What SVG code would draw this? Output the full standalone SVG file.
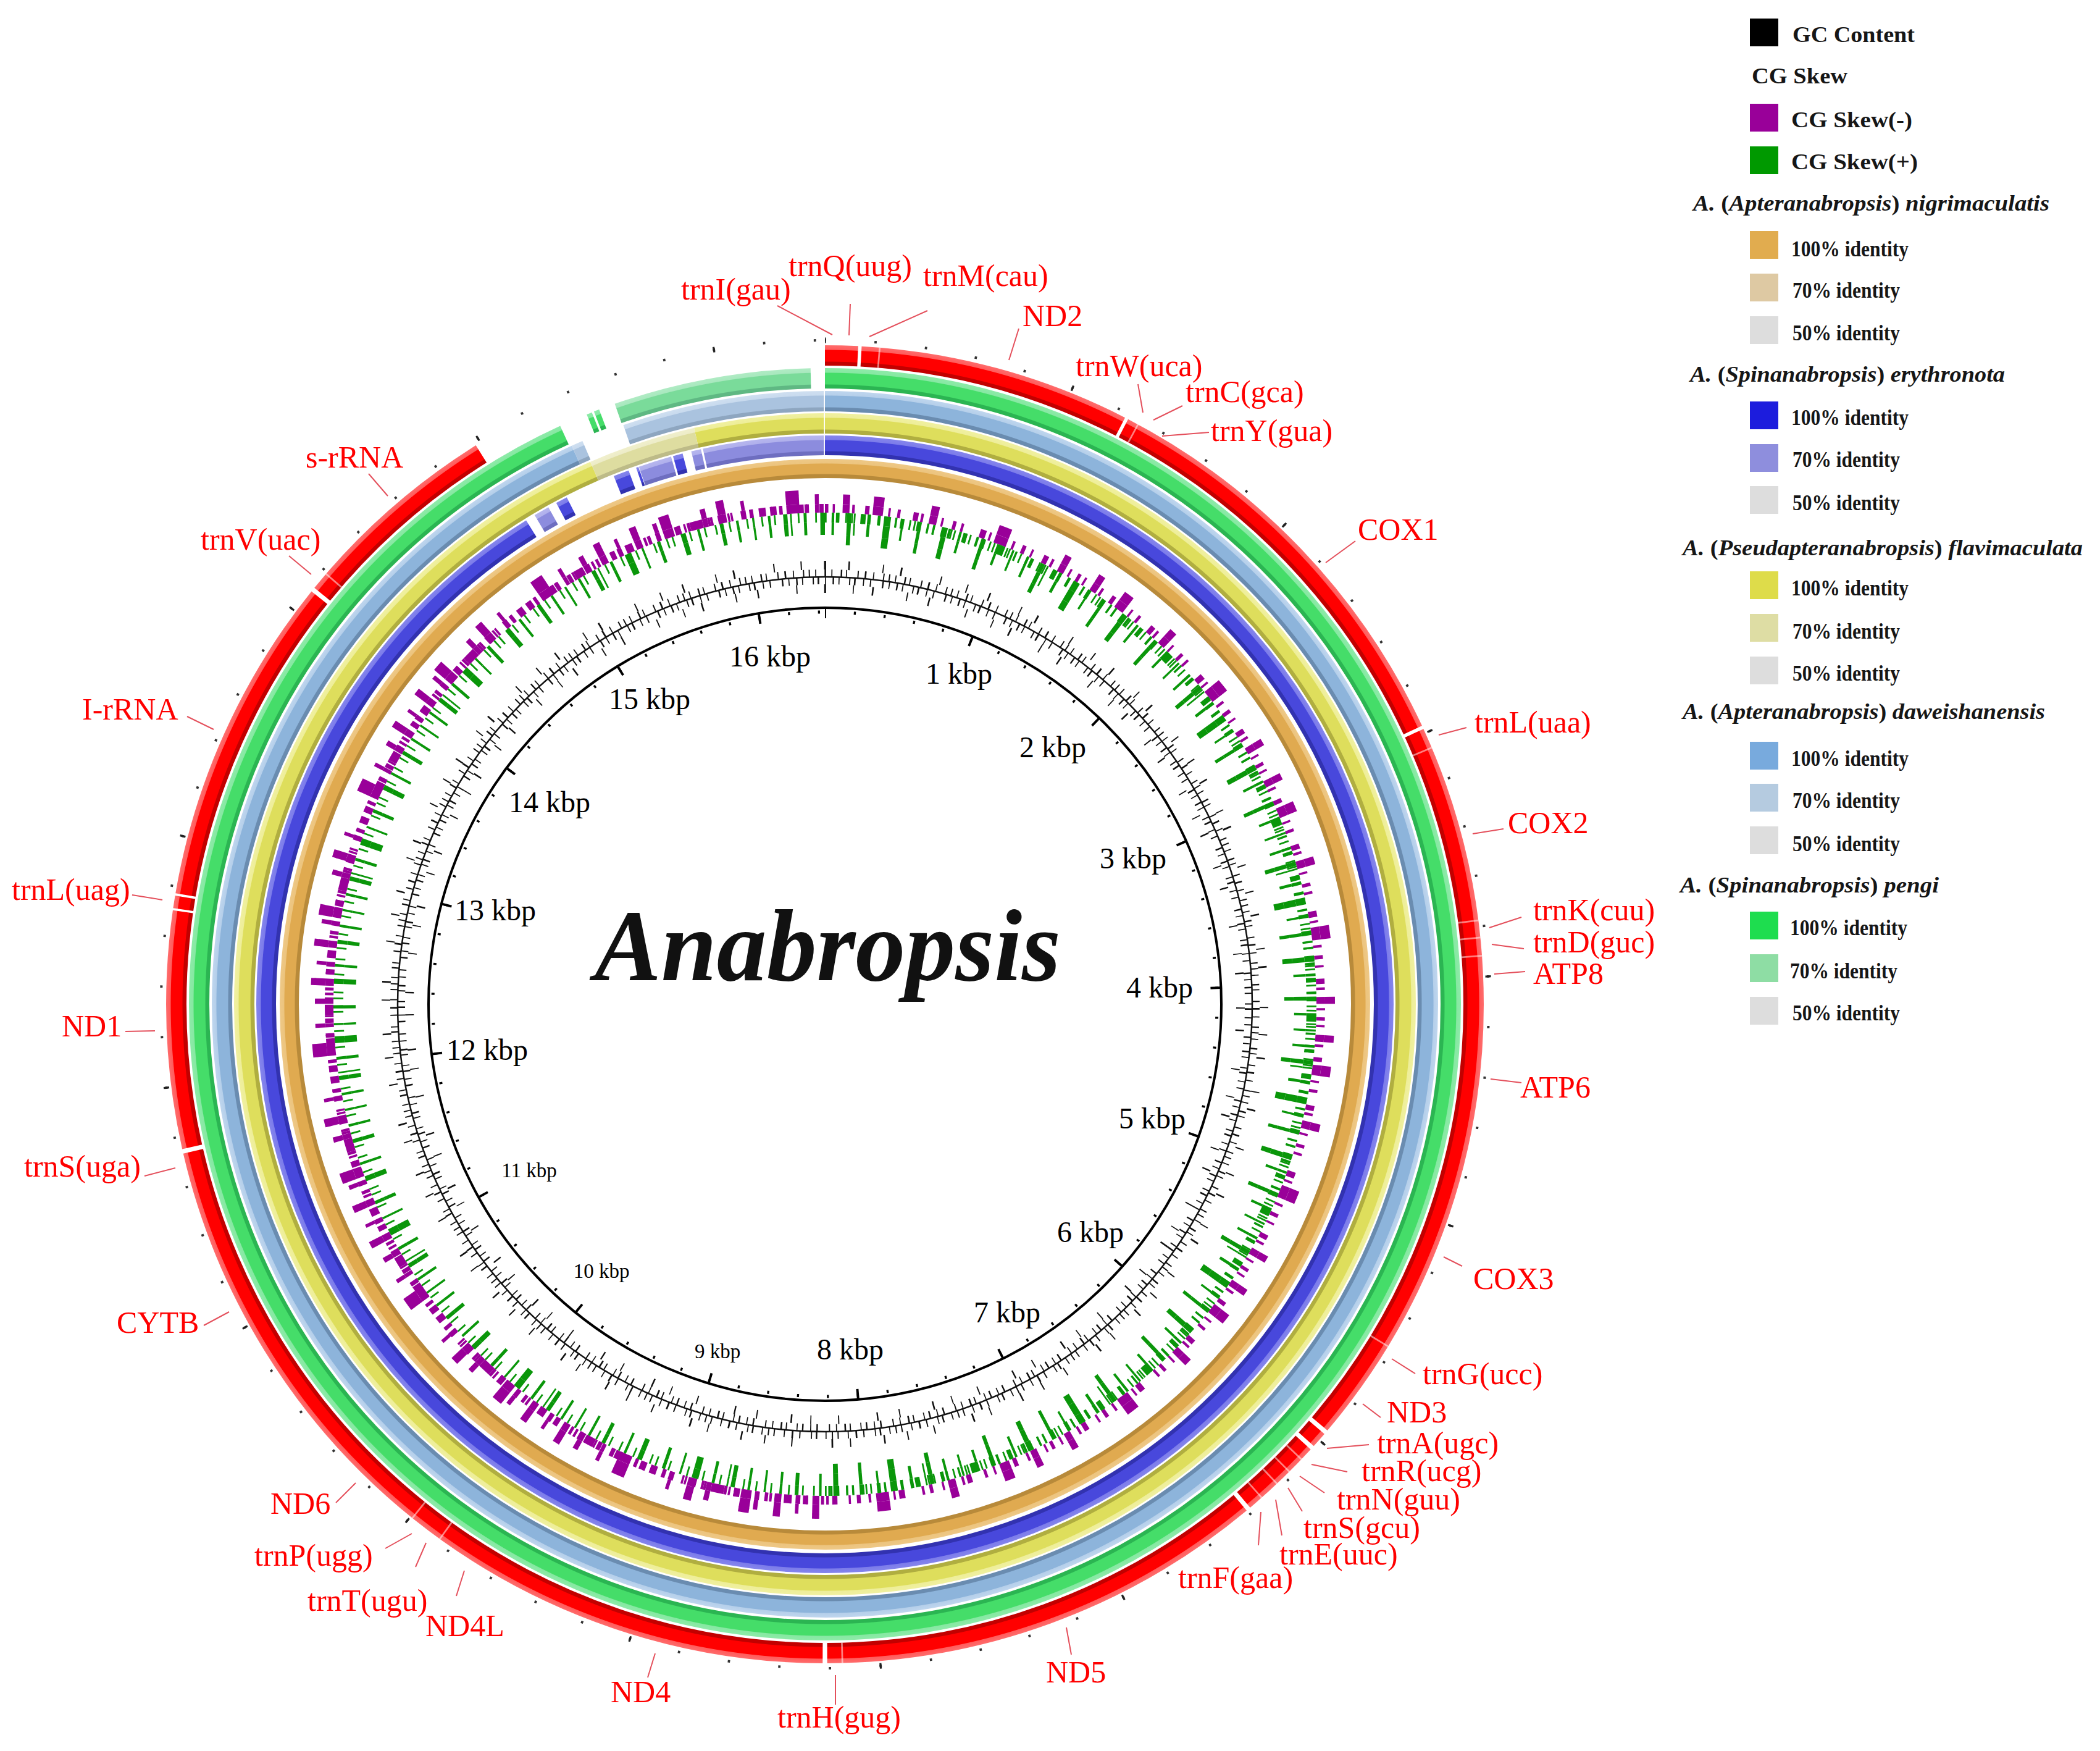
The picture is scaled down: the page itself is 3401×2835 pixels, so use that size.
<svg xmlns="http://www.w3.org/2000/svg" width="3401" height="2835" viewBox="0 0 3401 2835">
<defs>
<style>
.lbl{font-family:"Liberation Serif","Times New Roman",serif;font-size:50px;fill:#FF0000}
.ldr{stroke:#E4505C;stroke-width:2;fill:none}
.kbp{font-family:"Liberation Serif","Times New Roman",serif;font-size:48px;fill:#000;text-anchor:middle}
.kbs{font-size:33px}
.leg{font-family:"Liberation Serif","Times New Roman",serif;font-size:36px;font-weight:bold;fill:#161616}
.it{font-style:italic}
.rot{fill:none}
</style>
<radialGradient id="gRed" gradientUnits="userSpaceOnUse" cx="1336" cy="1626" r="1067">
<stop offset="0.969" stop-color="#C20000"/><stop offset="0.9747" stop-color="#C20000"/><stop offset="0.9756" stop-color="#FF0000"/><stop offset="0.9925" stop-color="#FF0000"/><stop offset="0.9934" stop-color="#FF5C5C"/><stop offset="1" stop-color="#FF6C6C"/>
</radialGradient>
<radialGradient id="gGr" gradientUnits="userSpaceOnUse" cx="1336" cy="1626" r="1067">
<stop offset="0.9344" stop-color="#2BB552"/><stop offset="0.9400" stop-color="#2BB552"/><stop offset="0.9410" stop-color="#45DD69"/><stop offset="0.9578" stop-color="#45DD69"/><stop offset="0.9588" stop-color="#86E8A2"/><stop offset="0.9653" stop-color="#8DEBA8"/>
</radialGradient>
<radialGradient id="gGr7" gradientUnits="userSpaceOnUse" cx="1336" cy="1626" r="1067">
<stop offset="0.9344" stop-color="#5FB883"/><stop offset="0.9400" stop-color="#5FB883"/><stop offset="0.9410" stop-color="#7ADB9A"/><stop offset="0.9578" stop-color="#7ADB9A"/><stop offset="0.9588" stop-color="#A8E8BE"/><stop offset="0.9653" stop-color="#B0EBC4"/>
</radialGradient>
<radialGradient id="gBg" gradientUnits="userSpaceOnUse" cx="1336" cy="1626" r="1067">
<stop offset="0.8997" stop-color="#6A8CB0"/><stop offset="0.9053" stop-color="#6A8CB0"/><stop offset="0.9063" stop-color="#8DB4DB"/><stop offset="0.9232" stop-color="#8DB4DB"/><stop offset="0.9241" stop-color="#B5CFEA"/><stop offset="0.9307" stop-color="#BFD6EE"/>
</radialGradient>
<radialGradient id="gBg7" gradientUnits="userSpaceOnUse" cx="1336" cy="1626" r="1067">
<stop offset="0.8997" stop-color="#8EA6C0"/><stop offset="0.9053" stop-color="#8EA6C0"/><stop offset="0.9063" stop-color="#AAC3DF"/><stop offset="0.9232" stop-color="#AAC3DF"/><stop offset="0.9241" stop-color="#C8DAEE"/><stop offset="0.9307" stop-color="#CFDFF0"/>
</radialGradient>
<radialGradient id="gYe" gradientUnits="userSpaceOnUse" cx="1336" cy="1626" r="1067">
<stop offset="0.8660" stop-color="#B0AE40"/><stop offset="0.8716" stop-color="#B0AE40"/><stop offset="0.8725" stop-color="#DEDE5C"/><stop offset="0.8894" stop-color="#DEDE5C"/><stop offset="0.8904" stop-color="#EEEE99"/><stop offset="0.8969" stop-color="#F0F0A0"/>
</radialGradient>
<radialGradient id="gYe7" gradientUnits="userSpaceOnUse" cx="1336" cy="1626" r="1067">
<stop offset="0.8660" stop-color="#BDBB88"/><stop offset="0.8716" stop-color="#BDBB88"/><stop offset="0.8725" stop-color="#DEDDA0"/><stop offset="0.8894" stop-color="#DEDDA0"/><stop offset="0.8904" stop-color="#EDECC8"/><stop offset="0.8969" stop-color="#F0EFCC"/>
</radialGradient>
<radialGradient id="gBl" gradientUnits="userSpaceOnUse" cx="1336" cy="1626" r="1067">
<stop offset="0.8332" stop-color="#3232B0"/><stop offset="0.8388" stop-color="#3232B0"/><stop offset="0.8397" stop-color="#4848DC"/><stop offset="0.8557" stop-color="#4848DC"/><stop offset="0.8566" stop-color="#7C7CEA"/><stop offset="0.8632" stop-color="#8585EC"/>
</radialGradient>
<radialGradient id="gBl7" gradientUnits="userSpaceOnUse" cx="1336" cy="1626" r="1067">
<stop offset="0.8332" stop-color="#6E6EC0"/><stop offset="0.8388" stop-color="#6E6EC0"/><stop offset="0.8397" stop-color="#8C8CDE"/><stop offset="0.8557" stop-color="#8C8CDE"/><stop offset="0.8566" stop-color="#B0B0EC"/><stop offset="0.8632" stop-color="#B6B6EE"/>
</radialGradient>
<radialGradient id="gOr" gradientUnits="userSpaceOnUse" cx="1336" cy="1626" r="1067">
<stop offset="0.7985" stop-color="#B88A3A"/><stop offset="0.8041" stop-color="#B88A3A"/><stop offset="0.8051" stop-color="#E0AA50"/><stop offset="0.8201" stop-color="#E0AA50"/><stop offset="0.8210" stop-color="#ECC47E"/><stop offset="0.8276" stop-color="#EEC886"/>
</radialGradient>
<clipPath id="cL"><rect x="0" y="0" width="1336" height="2835"/></clipPath>
<clipPath id="cR"><rect x="1336" y="0" width="2065" height="2835"/></clipPath>
</defs>
<rect x="0" y="0" width="3401" height="2835" fill="#FFFFFF"/>

<g id="identity-rings" class="rot" transform="rotate(-90 1336 1626)">
<circle cx="1336" cy="1626" r="867.5" stroke="url(#gOr)" stroke-width="31"/>
<circle cx="1336" cy="1626" r="905" stroke="url(#gBl)" stroke-width="32" pathLength="360" stroke-dasharray="328.3 3.5 1.2 5.2 1.6 0.8 0.25 3.65 1 999"/>
<circle cx="1336" cy="1626" r="905" stroke="url(#gBl7)" stroke-width="32" pathLength="360" stroke-dasharray="0 329.3 1.6 10 3.4 2.1 1 0.2 12.3 999"/>
<circle cx="1336" cy="1626" r="940.5" stroke="url(#gYe)" stroke-width="33" pathLength="360" stroke-dasharray="336.6 10.6 12.7 999"/>
<circle cx="1336" cy="1626" r="940.5" stroke="url(#gYe7)" stroke-width="33" pathLength="360" stroke-dasharray="0 336.6 10.6 999"/>
<circle cx="1336" cy="1626" r="976.5" stroke="url(#gBg)" stroke-width="33" pathLength="360" stroke-dasharray="335.6 999"/>
<circle cx="1336" cy="1626" r="976.5" stroke="url(#gBg7)" stroke-width="33" pathLength="360" stroke-dasharray="0 335.6 1.1 4.1 19.1 999"/>
<circle cx="1336" cy="1626" r="1013.5" stroke="url(#gGr)" stroke-width="33" pathLength="360" stroke-dasharray="335.4 2.6 0.5 0.2 0.5 999"/>
<circle cx="1336" cy="1626" r="1013.5" stroke="url(#gGr7)" stroke-width="33" pathLength="360" stroke-dasharray="0 340.7 18 999"/>
</g>

<g id="gene-ring" class="rot" transform="rotate(-90 1336 1626)">
<circle cx="1336" cy="1626" r="1050.5" stroke="url(#gRed)" stroke-width="33" pathLength="360" stroke-dasharray="2.9 0.3 23.9 0.3 37.6 0.3 65 0.4 1.4 0.4 7.3 0.4 39.6 0.4 76.7 0.4 20.9 0.2 1.1 0.2 29.1 0.4 18.8 40"/>
<circle cx="1336" cy="1626" r="1050.5" stroke="#FFFFFF" stroke-opacity="0.5" stroke-width="33" pathLength="360" stroke-dasharray="0 4.7 0.15 23.45 0.15 38.55 0.15 15.45 0.15 1.35 0.15 1.45 0.15 35.35 0.15 12.25 0.15 1.35 0.15 1.35 0.15 1.65 0.15 39.85 0.15 37.15 0.15 2.85 0.15 91.85 0.15 999"/>
<circle cx="1336" cy="1626" r="1075" stroke="#333" stroke-width="4" pathLength="360" stroke-dasharray="0.2 4.1796" stroke-dashoffset="0.1"/>
<circle cx="1336" cy="1626" r="1075" stroke="#222" stroke-width="9" pathLength="360" stroke-dasharray="0.17 21.728" stroke-dashoffset="0.085"/>
</g>

<g id="cg-skew">
<g class="rot" transform="rotate(-90 1336 1626)" stroke="#990099">
<circle cx="1336" cy="1626" r="803" stroke-width="14" pathLength="360" stroke-dasharray="0.4 0.5 0.25 0.9 0.8 0.3 0.3 1.2 0.5 0.4 1.2 0.6 0.25 0.8 0.35 1.5 0.6 0.3 0.3 0.7 0.9 0.5 0.25 1.1 0.4 0.6 0.3 2.0 0.7 0.4 0.25 0.5 1.5 0.6 0.3 0.9 0.45 0.7 0.25 1.3 0.6 0.4 0.3 0.8 0.8 0.5 0.25 0.8"/>
</g>
<g clip-path="url(#cL)">
<g class="rot" transform="rotate(-90 1336 1626)" stroke="#990099">
<circle cx="1336" cy="1626" r="803" stroke-width="14" pathLength="360" stroke-dasharray="0.4 0.5 0.25 0.9 0.8 0.3 0.3 1.2 0.5 0.4 1.2 0.6 0.25 0.8 0.35 1.5 0.6 0.3 0.3 0.7 0.9 0.5 0.25 1.1 0.4 0.6 0.3 2.0 0.7 0.4 0.25 0.5 1.5 0.6 0.3 0.9 0.45 0.7 0.25 1.3 0.6 0.4 0.3 0.8 0.8 0.5 0.25 0.8" stroke-dashoffset="11.3"/>
<circle cx="1336" cy="1626" r="818" stroke-width="16" pathLength="360" stroke-dasharray="0.4 1.65 0.8 1.8 0.5 0.4 1.2 3.5 0.6 1.3 0.9 1.85 0.4 4.75 1.5 1.8 0.45 2.25 0.6 1.5 0.8 1.55"/>
<circle cx="1336" cy="1626" r="829" stroke-width="8" pathLength="360" stroke-dasharray="0 2.05 0.8 2.7 1.2 5.4 0.9 7 1.5 6.6 0.8 1.55"/>
</g>
</g>
<g clip-path="url(#cR)">
<g class="rot" transform="rotate(-90 1336 1626)" stroke="#990099">
<circle cx="1336" cy="1626" r="818" stroke-width="16" pathLength="360" stroke-dasharray="0 2.05 0.8 2.7 1.2 5.4 0.9 7 1.5 6.6 0.8 1.55"/>
</g>
</g>
<g class="rot" transform="rotate(-90 1336 1626)" stroke="#0A960A">
<circle cx="1336" cy="1626" r="788" stroke-width="16" pathLength="360" stroke-dasharray="0.2 0.6 0.3 0.4 0.2 0.9 0.5 0.3 0.2 0.7 0.2 0.5 0.35 1.0 0.2 0.4 0.8 0.5 0.2 0.6 0.25 1.2 0.2 0.3 0.4 0.7 0.2 0.5 0.2 0.9 0.6 0.4 0.2 0.8 0.3 0.5 0.2 1.1 0.2 0.4 0.45 0.6 0.2 0.7 0.3 0.9 0.2 0.5 0.25 0.8"/>
<circle cx="1336" cy="1626" r="770" stroke-width="20" pathLength="360" stroke-dasharray="0 0.8 0.3 1.5 0.5 0.3 0.2 1.4 0.35 1.6 0.8 1.3 0.25 1.7 0.4 2.5 0.6 1.4 0.3 2.4 0.45 1.5 0.3 1.6 0.25 0.8"/>
</g>
<g clip-path="url(#cR)">
<g class="rot" transform="rotate(-90 1336 1626)" stroke="#0A960A">
<circle cx="1336" cy="1626" r="752" stroke-width="16" pathLength="360" stroke-dasharray="0 2.6 0.5 3.85 0.8 3.25 0.4 2.5 0.6 4.1 0.45 4.45"/>
<circle cx="1336" cy="1626" r="788" stroke-width="16" pathLength="360" stroke-dasharray="0.2 0.6 0.3 0.4 0.2 0.9 0.5 0.3 0.2 0.7 0.2 0.5 0.35 1.0 0.2 0.4 0.8 0.5 0.2 0.6 0.25 1.2 0.2 0.3 0.4 0.7 0.2 0.5 0.2 0.9 0.6 0.4 0.2 0.8 0.3 0.5 0.2 1.1 0.2 0.4 0.45 0.6 0.2 0.7 0.3 0.9 0.2 0.5 0.25 0.8" stroke-dashoffset="9.7"/>
</g>
</g>
</g>

<g id="gc-content" class="rot" transform="rotate(-90 1336 1626)" stroke="#111">
<circle cx="1336" cy="1626" r="692" stroke-width="2.5"/>
<circle cx="1336" cy="1626" r="698" stroke-width="12" pathLength="360" stroke-dasharray="0.16 0.7 0.14 1.1 0.2 0.5 0.14 1.4 0.16 0.8 0.22 0.9 0.14 1.2 0.16 0.6"/>
<circle cx="1336" cy="1626" r="686" stroke-width="12" pathLength="360" stroke-dasharray="0.14 0.9 0.2 0.6 0.14 1.3 0.16 0.5 0.22 1.0 0.14 0.8 0.16 1.5 0.2 0.7"/>
<circle cx="1336" cy="1626" r="711" stroke-width="14" pathLength="360" stroke-dasharray="0.16 2.9 0.2 4.3 0.14 2.2 0.22 5.1 0.16 3.4"/>
<circle cx="1336" cy="1626" r="673" stroke-width="14" pathLength="360" stroke-dasharray="0.16 3.7 0.14 2.5 0.22 4.6 0.16 2.9 0.2 5.2"/>
</g>

<g id="scale-circle" class="rot" transform="rotate(-90 1336 1626)" stroke="#000">
<circle cx="1336" cy="1626" r="642" stroke-width="4"/>
<circle cx="1336" cy="1626" r="635" stroke-width="5" pathLength="360" stroke-dasharray="0.3 4.0796" stroke-dashoffset="0.15"/>
<circle cx="1336" cy="1626" r="633" stroke-width="16" pathLength="360" stroke-dasharray="0.35 21.548" stroke-dashoffset="0.175"/>
</g>

<g id="scale-labels">
<text class="kbp" x="1553" y="1107">1 kbp</text>
<text class="kbp" x="1705" y="1226">2 kbp</text>
<text class="kbp" x="1835" y="1406">3 kbp</text>
<text class="kbp" x="1878" y="1615">4 kbp</text>
<text class="kbp" x="1866" y="1827">5 kbp</text>
<text class="kbp" x="1766" y="2011">6 kbp</text>
<text class="kbp" x="1631" y="2141">7 kbp</text>
<text class="kbp" x="1377" y="2201">8 kbp</text>
<text class="kbp kbs" x="1162" y="2199">9 kbp</text>
<text class="kbp kbs" x="974" y="2069">10 kbp</text>
<text class="kbp kbs" x="857" y="1906">11 kbp</text>
<text class="kbp" x="789" y="1716">12 kbp</text>
<text class="kbp" x="802" y="1490">13 kbp</text>
<text class="kbp" x="890" y="1315">14 kbp</text>
<text class="kbp" x="1052" y="1148">15 kbp</text>
<text class="kbp" x="1247" y="1079">16 kbp</text>
</g>

<text id="title" x="963" y="1587" font-family="'Liberation Serif','Times New Roman',serif" font-size="165" font-weight="bold" font-style="italic" fill="#111" textLength="755" lengthAdjust="spacingAndGlyphs">Anabropsis</text>

<g id="leaders">
<line class="ldr" x1="1259" y1="495" x2="1348" y2="542"/>
<line class="ldr" x1="1377" y1="492" x2="1375" y2="543"/>
<line class="ldr" x1="1502" y1="503" x2="1408" y2="545"/>
<line class="ldr" x1="1650" y1="532" x2="1634" y2="583"/>
<line class="ldr" x1="1843" y1="622" x2="1851" y2="668"/>
<line class="ldr" x1="1915" y1="657" x2="1868" y2="680"/>
<line class="ldr" x1="1958" y1="700" x2="1882" y2="706"/>
<line class="ldr" x1="2195" y1="876" x2="2147" y2="911"/>
<line class="ldr" x1="2375" y1="1178" x2="2330" y2="1190"/>
<line class="ldr" x1="2435" y1="1342" x2="2385" y2="1350"/>
<line class="ldr" x1="2464" y1="1485" x2="2412" y2="1502"/>
<line class="ldr" x1="2468" y1="1536" x2="2416" y2="1529"/>
<line class="ldr" x1="2470" y1="1573" x2="2420" y2="1577"/>
<line class="ldr" x1="2464" y1="1753" x2="2414" y2="1747"/>
<line class="ldr" x1="2368" y1="2050" x2="2338" y2="2035"/>
<line class="ldr" x1="2292" y1="2224" x2="2254" y2="2200"/>
<line class="ldr" x1="2236" y1="2295" x2="2207" y2="2273"/>
<line class="ldr" x1="2217" y1="2339" x2="2149" y2="2345"/>
<line class="ldr" x1="2182" y1="2383" x2="2124" y2="2371"/>
<line class="ldr" x1="2145" y1="2417" x2="2105" y2="2390"/>
<line class="ldr" x1="2109" y1="2447" x2="2086" y2="2409"/>
<line class="ldr" x1="2076" y1="2486" x2="2066" y2="2428"/>
<line class="ldr" x1="2038" y1="2502" x2="2042" y2="2448"/>
<line class="ldr" x1="1735" y1="2679" x2="1727" y2="2635"/>
<line class="ldr" x1="1353" y1="2760" x2="1353" y2="2712"/>
<line class="ldr" x1="1049" y1="2716" x2="1061" y2="2677"/>
<line class="ldr" x1="739" y1="2584" x2="752" y2="2543"/>
<line class="ldr" x1="673" y1="2537" x2="690" y2="2498"/>
<line class="ldr" x1="624" y1="2507" x2="667" y2="2483"/>
<line class="ldr" x1="544" y1="2433" x2="576" y2="2401"/>
<line class="ldr" x1="330" y1="2146" x2="371" y2="2124"/>
<line class="ldr" x1="234" y1="1904" x2="284" y2="1891"/>
<line class="ldr" x1="203" y1="1670" x2="251" y2="1669"/>
<line class="ldr" x1="214" y1="1449" x2="263" y2="1457"/>
<line class="ldr" x1="303" y1="1160" x2="346" y2="1181"/>
<line class="ldr" x1="468" y1="900" x2="504" y2="930"/>
<line class="ldr" x1="597" y1="767" x2="628" y2="803"/>
</g>

<g id="gene-labels">
<text class="lbl" x="1103" y="485">trnI(gau)</text>
<text class="lbl" x="1277" y="447">trnQ(uug)</text>
<text class="lbl" x="1495" y="463">trnM(cau)</text>
<text class="lbl" x="1656" y="528">ND2</text>
<text class="lbl" x="1742" y="609">trnW(uca)</text>
<text class="lbl" x="1920" y="651">trnC(gca)</text>
<text class="lbl" x="1961" y="714">trnY(gua)</text>
<text class="lbl" x="2199" y="874">COX1</text>
<text class="lbl" x="2388" y="1186">trnL(uaa)</text>
<text class="lbl" x="2442" y="1349">COX2</text>
<text class="lbl" x="2483" y="1490">trnK(cuu)</text>
<text class="lbl" x="2483" y="1542">trnD(guc)</text>
<text class="lbl" x="2483" y="1593">ATP8</text>
<text class="lbl" x="2462" y="1777">ATP6</text>
<text class="lbl" x="2386" y="2087">COX3</text>
<text class="lbl" x="2304" y="2241">trnG(ucc)</text>
<text class="lbl" x="2246" y="2303">ND3</text>
<text class="lbl" x="2230" y="2353">trnA(ugc)</text>
<text class="lbl" x="2205" y="2398">trnR(ucg)</text>
<text class="lbl" x="2165" y="2444">trnN(guu)</text>
<text class="lbl" x="2111" y="2490">trnS(gcu)</text>
<text class="lbl" x="2072" y="2533">trnE(uuc)</text>
<text class="lbl" x="1908" y="2571">trnF(gaa)</text>
<text class="lbl" x="1694" y="2724">ND5</text>
<text class="lbl" x="1259" y="2797">trnH(gug)</text>
<text class="lbl" x="989" y="2756">ND4</text>
<text class="lbl" x="689" y="2649">ND4L</text>
<text class="lbl" x="498" y="2608">trnT(ugu)</text>
<text class="lbl" x="412" y="2535">trnP(ugg)</text>
<text class="lbl" x="438" y="2451">ND6</text>
<text class="lbl" x="189" y="2158">CYTB</text>
<text class="lbl" x="39" y="1905">trnS(uga)</text>
<text class="lbl" x="100" y="1678">ND1</text>
<text class="lbl" x="19" y="1457">trnL(uag)</text>
<text class="lbl" x="133" y="1165">I-rRNA</text>
<text class="lbl" x="325" y="890">trnV(uac)</text>
<text class="lbl" x="495" y="757">s-rRNA</text>
</g>

<g id="legend">
<rect x="2834" y="30" width="46" height="45" fill="#000"/>
<text class="leg" x="2903" y="68" textLength="198" lengthAdjust="spacingAndGlyphs">GC Content</text>
<text class="leg" x="2837" y="135" textLength="155" lengthAdjust="spacingAndGlyphs">CG Skew</text>
<rect x="2834" y="168" width="46" height="45" fill="#990099"/>
<text class="leg" x="2901" y="206" textLength="196" lengthAdjust="spacingAndGlyphs">CG Skew(-)</text>
<rect x="2834" y="237" width="46" height="45" fill="#009900"/>
<text class="leg" x="2901" y="274" textLength="205" lengthAdjust="spacingAndGlyphs">CG Skew(+)</text>

<text class="leg" x="2742" y="341" textLength="577" lengthAdjust="spacingAndGlyphs"><tspan class="it">A.</tspan> (<tspan class="it">Apteranabropsis</tspan>) <tspan class="it">nigrimaculatis</tspan></text>
<rect x="2834" y="374" width="46" height="45" fill="#E1AC4F"/>
<text class="leg" x="2901" y="415" textLength="190" lengthAdjust="spacingAndGlyphs">100% identity</text>
<rect x="2834" y="443" width="46" height="45" fill="#DEC9A3"/>
<text class="leg" x="2903" y="482" textLength="174" lengthAdjust="spacingAndGlyphs">70% identity</text>
<rect x="2834" y="512" width="46" height="45" fill="#DDDDDD"/>
<text class="leg" x="2903" y="551" textLength="174" lengthAdjust="spacingAndGlyphs">50% identity</text>

<text class="leg" x="2737" y="618" textLength="510" lengthAdjust="spacingAndGlyphs"><tspan class="it">A.</tspan> (<tspan class="it">Spinanabropsis</tspan>) <tspan class="it">erythronota</tspan></text>
<rect x="2834" y="650" width="46" height="45" fill="#1C1CDD"/>
<text class="leg" x="2901" y="688" textLength="190" lengthAdjust="spacingAndGlyphs">100% identity</text>
<rect x="2834" y="719" width="46" height="45" fill="#8E8EDD"/>
<text class="leg" x="2903" y="756" textLength="174" lengthAdjust="spacingAndGlyphs">70% identity</text>
<rect x="2834" y="787" width="46" height="45" fill="#DDDDDD"/>
<text class="leg" x="2903" y="826" textLength="174" lengthAdjust="spacingAndGlyphs">50% identity</text>

<text class="leg" x="2725" y="899" textLength="648" lengthAdjust="spacingAndGlyphs"><tspan class="it">A.</tspan> (<tspan class="it">Pseudapteranabropsis</tspan>) <tspan class="it">flavimaculata</tspan></text>
<rect x="2834" y="925" width="46" height="45" fill="#DEDC4A"/>
<text class="leg" x="2901" y="964" textLength="190" lengthAdjust="spacingAndGlyphs">100% identity</text>
<rect x="2834" y="994" width="46" height="45" fill="#DEDDA4"/>
<text class="leg" x="2903" y="1034" textLength="174" lengthAdjust="spacingAndGlyphs">70% identity</text>
<rect x="2834" y="1063" width="46" height="45" fill="#DDDDDD"/>
<text class="leg" x="2903" y="1102" textLength="174" lengthAdjust="spacingAndGlyphs">50% identity</text>

<text class="leg" x="2725" y="1164" textLength="587" lengthAdjust="spacingAndGlyphs"><tspan class="it">A.</tspan> (<tspan class="it">Apteranabropsis</tspan>) <tspan class="it">daweishanensis</tspan></text>
<rect x="2834" y="1201" width="46" height="45" fill="#78AADD"/>
<text class="leg" x="2901" y="1240" textLength="190" lengthAdjust="spacingAndGlyphs">100% identity</text>
<rect x="2834" y="1269" width="46" height="45" fill="#B5CBE0"/>
<text class="leg" x="2903" y="1308" textLength="174" lengthAdjust="spacingAndGlyphs">70% identity</text>
<rect x="2834" y="1338" width="46" height="45" fill="#DDDDDD"/>
<text class="leg" x="2903" y="1378" textLength="174" lengthAdjust="spacingAndGlyphs">50% identity</text>

<text class="leg" x="2721" y="1445" textLength="419" lengthAdjust="spacingAndGlyphs"><tspan class="it">A.</tspan> (<tspan class="it">Spinanabropsis</tspan>) <tspan class="it">pengi</tspan></text>
<rect x="2834" y="1476" width="46" height="45" fill="#1EDD4F"/>
<text class="leg" x="2899" y="1514" textLength="190" lengthAdjust="spacingAndGlyphs">100% identity</text>
<rect x="2834" y="1545" width="46" height="45" fill="#8EDDA4"/>
<text class="leg" x="2899" y="1584" textLength="174" lengthAdjust="spacingAndGlyphs">70% identity</text>
<rect x="2834" y="1614" width="46" height="45" fill="#DDDDDD"/>
<text class="leg" x="2903" y="1652" textLength="174" lengthAdjust="spacingAndGlyphs">50% identity</text>
</g>
</svg>
